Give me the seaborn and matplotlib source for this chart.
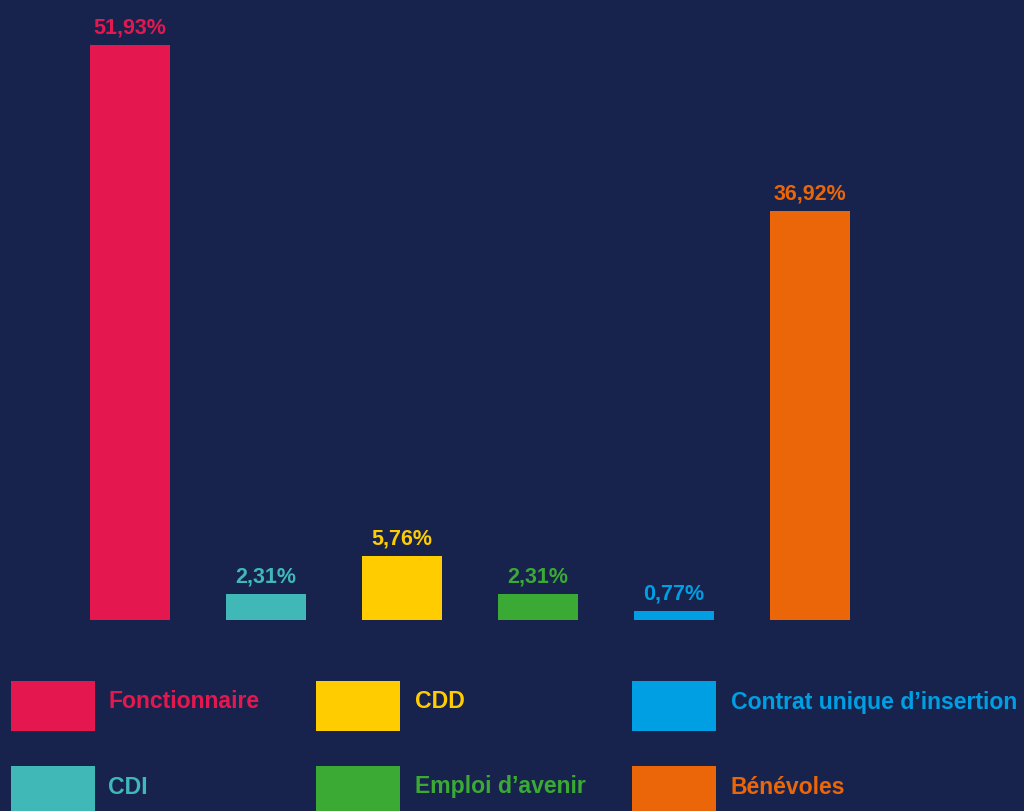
import matplotlib
matplotlib.use("Agg")
import matplotlib.pyplot as plt
import seaborn as sns
import pandas as pd
from matplotlib.patches import Rectangle

categories = ["Fonctionnaire", "CDI", "CDD", "Emploi d\u2019avenir",
              "Contrat unique d\u2019insertion", "B\u00e9n\u00e9voles"]
values = [51.93, 2.31, 5.76, 2.31, 0.77, 36.92]
value_labels = ["51,93%", "2,31%", "5,76%", "2,31%", "0,77%", "36,92%"]
colors = ["#e5174f", "#40b8b8", "#ffcc00", "#3aaa35", "#009fe3", "#eb6608"]

BG = "#17234d"
sns.set_theme(style="white")
plt.rcParams["font.family"] = ["Liberation Sans", "DejaVu Sans"]

W, H = 1024, 811
fig = plt.figure(figsize=(W / 100, H / 100), dpi=100, facecolor=BG)
ax = fig.add_axes([0, 0, 1, 1], facecolor=BG)

df = pd.DataFrame({"cat": categories, "val": values})
sns.barplot(data=df, x="cat", y="val", hue="cat", palette=colors,
            order=categories, hue_order=categories, legend=False,
            width=0.588, saturation=1, linewidth=0, edgecolor="none", ax=ax)

# pixel-based mapping: baseline at 620 px, 51.93 at 45 px
ppu = (620 - 45) / 51.93
ax.set_ylim((620 - H) / ppu, 620 / ppu)
ax.set_xlim(-130 / 136, (W - 130) / 136)
ax.axis("off")

for bar, lab, col in zip(ax.patches, value_labels, colors):
    ax.annotate(lab, (bar.get_x() + bar.get_width() / 2, bar.get_height()),
                xytext=(0, 5), textcoords="offset points",
                ha="center", va="bottom", color=col,
                fontsize=15.5, fontweight="bold")

# legend grid: three columns, two rows
legend_cols = [(11, 108), (316, 415), (632, 731)]
legend_rows = [681, 766]
for i, (cat, col) in enumerate(zip(categories, colors)):
    c, r = divmod(i, 2)
    bx, tx = legend_cols[c]
    top = legend_rows[r]
    fig.patches.append(Rectangle((bx / W, 1 - (top + 50) / H), 84 / W, 50 / H,
                                 transform=fig.transFigure, color=col,
                                 linewidth=0))
    fig.text(tx / W, 1 - (top + 21) / H, cat, color=col, fontsize=16.6,
             fontweight="bold", ha="left", va="center")

fig.savefig("out.png", dpi=100, facecolor=BG)
